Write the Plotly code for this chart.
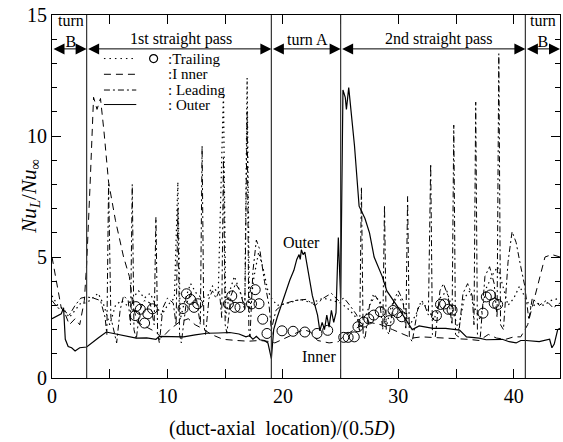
import plotly.graph_objects as go

# ---------------- data ----------------
outer_x = [0.0, 0.4, 0.8, 1.0, 1.15, 1.4, 1.7, 2.0, 2.4, 3.0, 3.5, 4.0, 4.7, 5.6, 6.5, 7.3, 8.2, 9.0, 9.3,
           10.2, 11.4, 12.4, 13.4, 14.4, 15.4, 16.2, 16.8, 17.1, 17.4, 17.7, 18.0, 18.4, 18.7, 19.0, 19.2,
           19.5, 20.1, 20.6, 20.95, 21.2, 21.4, 21.5, 21.6, 21.75, 21.9, 22.2, 22.55, 23.0, 23.2, 23.4,
           23.6, 23.8, 24.0, 24.2, 24.4, 24.6, 24.8, 25.0, 25.2, 25.4, 25.5, 25.7, 25.9, 26.2, 26.6,
           27.1, 27.5, 27.9, 28.6, 29.0, 30.0, 31.2, 31.8, 32.4, 33.0, 34.1, 35.3, 35.9, 37.0, 37.6,
           39.0, 39.6, 40.2, 40.6, 41.06, 42.2, 42.8, 43.1, 43.3, 43.5, 43.8, 44.0]
outer_y = [2.45, 2.55, 2.65, 2.9, 1.6, 1.3, 1.25, 1.12, 1.25, 1.28, 1.45, 1.65, 1.9, 1.82, 1.72, 1.65, 1.66,
           1.6, 1.72, 1.7, 1.7, 1.78, 1.85, 1.86, 1.88, 1.82, 1.7, 1.75, 1.6, 1.72, 1.58, 1.55, 1.45, 0.8,
           2.0, 2.5, 3.35, 4.05, 4.45, 4.9, 5.1, 4.9, 5.3, 5.1, 5.2, 4.4, 3.4, 2.6, 1.95, 2.3, 2.0, 2.6,
           2.1, 2.8, 2.3, 2.7, 5.8, 3.3, 11.9, 11.6, 11.1, 12.0, 11.0, 9.6, 7.1, 6.6, 6.0, 5.0, 4.2, 3.6,
           2.9, 2.0, 2.15, 2.1, 2.05, 2.05, 1.98, 1.7, 1.65, 1.58, 1.6, 1.5, 1.45, 1.55, 1.55, 1.5, 1.55,
           1.6, 1.25, 1.4, 2.0, 2.05]

inner_x = [0.0, 0.4, 0.8, 1.1, 1.5, 2.0, 2.4, 2.8, 3.0, 3.3, 3.6, 3.9, 4.2, 4.5, 4.9, 5.5, 6.2, 6.7, 7.0,
           7.4, 8.0, 9.0, 9.5, 10.2, 11.0, 11.8, 12.4, 13.0, 13.8, 14.8, 16.0, 17.0, 18.0, 19.0, 19.3,
           20.0, 21.0, 21.8, 22.4, 23.0, 24.0, 24.8, 25.2, 26.5, 27.5, 28.5, 29.5, 30.5, 31.2, 32.0, 33.0,
           34.0, 35.0, 36.0, 37.0, 37.8, 38.5, 39.3, 40.0, 40.6, 41.2, 41.8, 42.3, 42.7, 43.3, 44.0]
inner_y = [5.0, 4.0, 2.9, 2.7, 2.2, 2.45, 2.2, 3.2, 4.7, 8.0, 11.6, 11.1, 11.55, 10.2, 8.1, 6.5, 5.0, 4.2,
           3.0, 2.3, 2.15, 1.9, 1.65, 2.0, 2.3, 2.45, 2.2, 2.05, 1.8, 1.6, 1.55, 1.52, 1.55, 1.5, 1.45,
           1.6, 1.8, 2.0, 1.9, 1.55, 1.45, 1.5, 1.7, 2.1, 2.3, 2.2, 2.0, 1.8, 1.65, 1.7, 1.68, 1.65, 1.65,
           1.6, 1.55, 1.8, 1.65, 1.6, 1.7, 1.7, 2.2, 3.3, 4.3, 5.0, 5.1, 5.0]

leading_x = [0.0, 0.5, 1.0, 1.5, 2.0, 2.5, 3.0, 3.6, 4.2, 4.6, 4.75, 4.9, 5.1, 5.6, 5.9, 6.2, 6.6, 6.8,
             6.95, 7.1, 7.3, 7.6, 8.0, 8.5, 8.85, 9.0, 9.15, 9.3, 9.6, 10.0, 10.5, 10.75, 10.9, 11.05,
             11.2, 11.6, 12.0, 12.5, 12.85, 13.0, 13.15, 13.3, 13.6, 13.9, 14.2, 14.5, 14.7, 14.85, 15.0,
             15.15, 15.5, 15.9, 16.3, 16.7, 16.9, 17.05, 17.15, 17.4, 17.7, 18.0, 18.4, 18.8, 19.0, 19.4,
             20.0, 21.0, 22.0, 22.8, 23.5, 24.2, 24.8, 25.3, 25.8, 26.4, 26.65, 26.8, 26.95, 27.1, 27.5,
             28.0, 28.4, 28.65, 28.8, 28.95, 29.2, 29.6, 30.0, 30.4, 30.65, 30.8, 30.95, 31.2, 31.7, 32.2,
             32.6, 32.8, 32.95, 33.2, 33.6, 33.9, 34.3, 34.65, 34.8, 34.95, 35.2, 35.6, 36.0, 36.4, 36.55,
             36.7, 36.85, 37.1, 37.5, 37.9, 38.3, 38.55, 38.7, 38.85, 39.1, 39.5, 39.85, 40.2, 40.6, 40.95,
             41.3, 41.6, 42.2, 42.8, 43.4, 44.0]
leading_y = [3.2, 2.9, 2.8, 2.6, 3.0, 3.3, 3.35, 3.3, 3.2, 2.5, 1.8, 8.0, 2.5, 1.45, 2.8, 3.4, 3.2, 2.2,
             8.0, 2.0, 1.6, 2.8, 3.2, 3.1, 2.2, 6.65, 1.8, 1.45, 2.9, 3.3, 3.1, 2.2, 7.0, 1.8, 1.45, 3.0,
             3.5, 3.3, 2.2, 9.6, 2.2, 1.8, 3.3, 3.6, 3.3, 3.6, 2.5, 9.1, 2.2, 1.85, 3.4, 3.9, 3.6, 2.8,
             11.0, 2.0, 1.7, 4.4, 5.7, 5.3, 4.0, 3.0, 2.0, 2.8, 3.05, 3.2, 3.25, 3.0, 3.3, 3.5, 3.2, 3.3,
             3.0, 2.6, 1.9, 7.9, 1.8, 1.6, 3.0, 3.4, 3.1, 2.0, 7.15, 2.0, 1.8, 3.2, 3.6, 3.2, 2.0, 7.5, 1.7,
             1.5, 2.9, 3.1, 2.6, 8.85, 1.8, 1.7, 3.6, 3.9, 3.4, 2.2, 10.45, 1.8, 1.7, 3.5, 3.9, 3.4, 2.2,
             11.4, 1.8, 1.7, 4.2, 4.6, 3.9, 2.5, 13.4, 2.2, 2.0, 4.8, 6.05, 5.6, 4.6, 3.8, 2.4, 3.3, 3.0,
             3.2, 2.9, 3.1]

trailing_x = [0.0, 0.5, 1.0, 1.5, 2.0, 2.5, 3.0, 3.5, 4.0, 4.5, 5.0, 5.5, 6.0, 6.5, 7.0, 7.5, 8.0, 8.5,
              9.0, 9.5, 10.0, 10.6, 10.9, 11.1, 11.5, 12.0, 12.5, 13.0, 13.5, 13.9, 14.4, 14.85, 15.05,
              15.4, 15.8, 16.3, 16.7, 16.9, 17.1, 17.5, 17.9, 18.3, 18.7, 19.0, 19.5, 20.5, 21.5, 22.5,
              23.5, 24.3, 25.0, 25.8, 26.5, 27.2, 27.8, 28.4, 29.0, 29.4, 30.0, 30.5, 31.0, 31.5, 32.0,
              32.6, 33.1, 33.6, 34.2, 34.7, 35.2, 35.7, 36.2, 36.6, 37.1, 37.6, 38.2, 38.6, 39.0, 39.5,
              40.0, 40.5, 41.0, 41.5, 42.0, 42.6, 43.2, 44.0]
trailing_y = [3.4, 3.0, 2.85, 2.5, 2.8, 3.1, 3.1, 3.3, 3.5, 3.0, 2.2, 3.0, 3.2, 3.0, 3.3, 3.6, 3.3, 3.5,
              3.0, 2.6, 3.0, 3.3, 8.1, 2.4, 3.2, 3.9, 3.5, 3.3, 3.4, 3.8, 3.5, 11.8, 2.5, 3.6, 4.2, 3.5,
              3.0, 12.4, 2.7, 4.2, 5.2, 4.5, 3.6, 3.3, 3.0, 3.1, 3.25, 3.1, 3.3, 3.2, 3.1, 2.8, 2.4, 2.6,
              3.4, 3.2, 2.2, 3.0, 3.4, 3.0, 2.2, 2.6, 3.2, 2.8, 2.4, 3.3, 3.6, 2.8, 2.0, 3.3, 3.6, 2.9,
              2.4, 3.7, 4.3, 4.6, 3.9, 3.0, 3.3, 3.8, 3.3, 2.9, 3.1, 3.0, 3.2, 3.3]

trail_pts_x = [7.2, 7.27, 7.65, 8.02, 8.3, 8.7, 11.35, 11.65, 12.0, 12.3, 12.62, 15.28, 15.57, 15.85,
               16.28, 17.28, 17.6, 17.93, 18.25, 18.62, 19.92, 20.88, 21.9, 22.95, 23.88, 25.27, 25.65,
               26.18, 26.5, 27.0, 27.44, 27.87, 28.44, 29.2, 29.54, 29.93, 30.3, 33.3, 33.65, 34.0,
               34.33, 34.65, 37.33, 37.62, 37.97, 38.3, 38.6]
trail_pts_y = [2.58, 2.95, 2.84, 2.27, 2.65, 2.86, 2.87, 3.48, 3.25, 2.92, 3.07, 3.06, 3.39, 2.92, 2.92,
               3.06, 3.65, 3.07, 2.43, 1.84, 1.95, 1.93, 1.9, 1.84, 1.97, 1.68, 1.68, 1.7, 2.12, 2.31,
               2.44, 2.6, 2.74, 2.37, 2.79, 2.7, 2.53, 2.58, 3.04, 3.06, 2.84, 2.81, 2.68, 3.35, 3.43,
               3.09, 3.04]

boundaries = [3, 19, 25, 41]
regions = [[0, 3], [3, 19], [19, 25], [25, 41], [41, 44]]
region_labels = ["turn<br>B", "1st straight pass", "turn A", "2nd straight pass", "turn<br>B"]
region_label_x = [1.65, 11.2, 22.1, 33.5, 42.5]

legend_names = [":Trailing", ":I nner", ": Leading", ": Outer"]
legend_dashes = ["1.5px,4px", "7px,5px", "6px,3px,2px,3px", "solid"]
legend_y = [13.2, 12.55, 11.9, 11.3]

FONT = "Liberation Serif"
BLK = "black"

fig = go.Figure()
fig.add_trace(go.Scatter(x=trailing_x, y=trailing_y, mode="lines",
                         line=dict(color=BLK, width=1.2, dash="1.5px,3.5px"), showlegend=False))
fig.add_trace(go.Scatter(x=inner_x, y=inner_y, mode="lines",
                         line=dict(color=BLK, width=1, dash="7px,5px"), showlegend=False))
fig.add_trace(go.Scatter(x=leading_x, y=leading_y, mode="lines",
                         line=dict(color=BLK, width=1, dash="6px,3px,2px,3px"), showlegend=False))
fig.add_trace(go.Scatter(x=outer_x, y=outer_y, mode="lines",
                         line=dict(color=BLK, width=1.2), showlegend=False))
fig.add_trace(go.Scatter(x=trail_pts_x, y=trail_pts_y, mode="markers",
                         marker=dict(symbol="circle-open", size=10, color=BLK, line=dict(width=1)),
                         showlegend=False))

shapes = []
for b in boundaries:
    shapes.append(dict(type="line", xref="x", yref="y", x0=b, x1=b, y0=0, y1=15,
                       line=dict(color="#333", width=1.2)))

# legend samples
for yy, dsh in zip(legend_y, legend_dashes):
    shapes.append(dict(type="line", xref="x", yref="y", x0=4.5, x1=7.3, y0=yy, y1=yy,
                       line=dict(color=BLK, width=1, dash=dsh)))
fig.add_trace(go.Scatter(x=[8.8], y=[legend_y[0]], mode="markers",
                         marker=dict(symbol="circle-open", size=8, color=BLK, line=dict(width=1.2)),
                         showlegend=False))

annotations = []
for nm, yy in zip(legend_names, legend_y):
    annotations.append(dict(x=9.9, y=yy, xref="x", yref="y", text=nm, showarrow=False,
                            xanchor="left", yanchor="middle",
                            font=dict(family=FONT, size=15, color=BLK)))

# region arrows
for (a, b) in regions:
    annotations.append(dict(x=b, y=13.6, ax=a, ay=13.6, xref="x", yref="y", axref="x", ayref="y",
                            text="", showarrow=True, arrowside="end+start", arrowhead=2,
                            arrowsize=2.2, arrowwidth=1, arrowcolor=BLK, standoff=0, startstandoff=0))
for lab, lx in zip(region_labels, region_label_x):
    two = "<br>" in lab
    annotations.append(dict(x=lx, y=14.33 if two else 14.0, xref="x", yref="y", text=lab,
                            showarrow=False, xanchor="center", yanchor="middle",
                            font=dict(family=FONT, size=16, color=BLK)))

annotations.append(dict(x=21.65, y=5.58, xref="x", yref="y", text="Outer", showarrow=False,
                        font=dict(family=FONT, size=16, color=BLK)))
annotations.append(dict(x=23.1, y=0.9, xref="x", yref="y", text="Inner", showarrow=False,
                        font=dict(family=FONT, size=16, color=BLK)))
annotations.append(dict(x=0.453, y=-0.138, xref="paper", yref="paper",
                        text="(duct-axial\u00a0\u00a0location)/(0.5<i>D</i>)", showarrow=False,
                        xanchor="center", yanchor="middle",
                        font=dict(family=FONT, size=20, color=BLK)))
annotations.append(dict(x=-0.045, y=0.5, xref="paper", yref="paper", textangle=-90,
                        text="<i>Nu</i><sub><i>L</i></sub>/<i>Nu</i><sub>\u221e</sub>", showarrow=False,
                        xanchor="center", yanchor="middle",
                        font=dict(family=FONT, size=21, color=BLK)))

fig.update_layout(
    width=563, height=442,
    margin=dict(l=52, r=3, t=15, b=64),
    paper_bgcolor="white", plot_bgcolor="white",
    font=dict(family=FONT, size=19, color=BLK),
    shapes=shapes, annotations=annotations, showlegend=False,
)
fig.update_xaxes(range=[0, 44], showgrid=False, zeroline=False, showline=True, linecolor=BLK,
                 linewidth=1, mirror="allticks", ticks="inside", ticklen=9, tickwidth=1,
                 tickcolor=BLK, tick0=0, dtick=10,
                 minor=dict(dtick=5, ticks="inside", ticklen=9, tickcolor=BLK, showgrid=False),
                 tickfont=dict(family=FONT, size=20, color=BLK))
fig.update_yaxes(range=[0, 15], showgrid=False, zeroline=False, showline=True, linecolor=BLK,
                 linewidth=1, mirror="allticks", ticks="inside", ticklen=9, tickwidth=1,
                 tickcolor=BLK, tick0=0, dtick=5,
                 minor=dict(dtick=1, ticks="inside", ticklen=5, tickcolor=BLK, showgrid=False),
                 tickfont=dict(family=FONT, size=20, color=BLK))

fig.write_html("out.html")
